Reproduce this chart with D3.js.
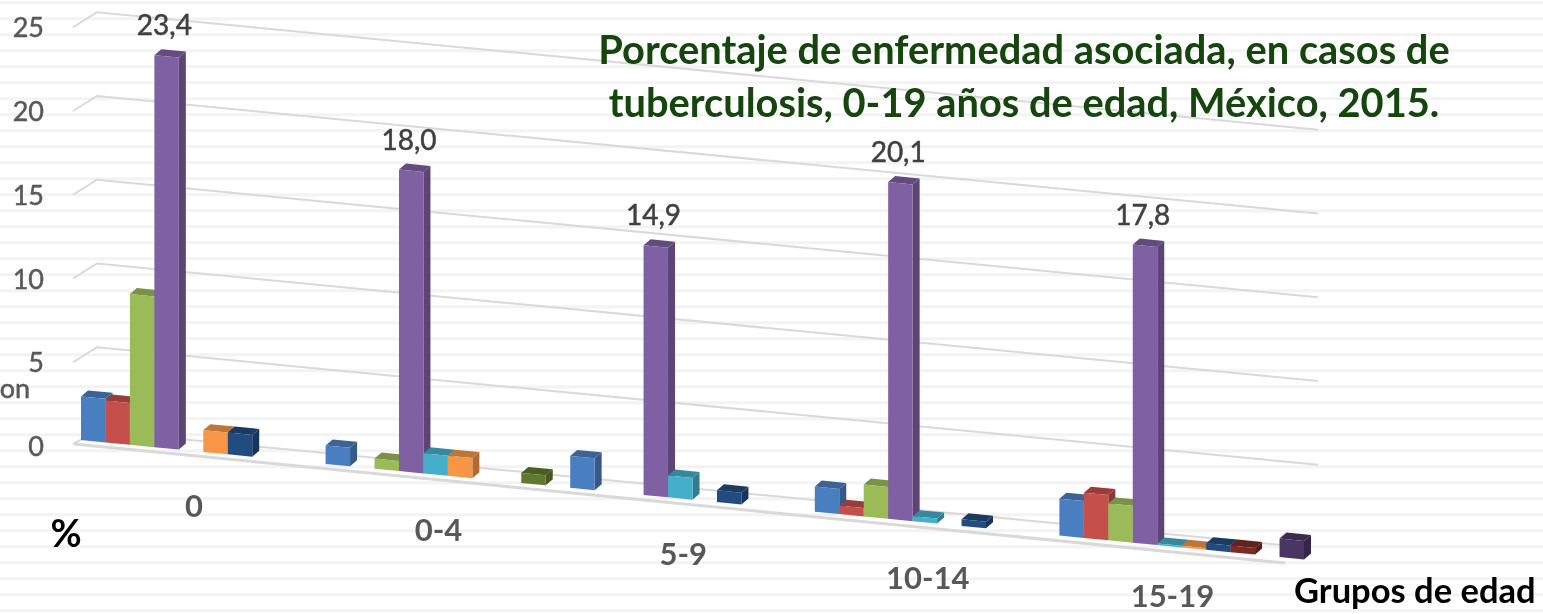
<!DOCTYPE html>
<html><head><meta charset="utf-8">
<script src="https://cdnjs.cloudflare.com/ajax/libs/d3/7.8.5/d3.min.js"></script>
<style>html,body{margin:0;padding:0;background:#fff;overflow:hidden}svg{display:block}</style>
</head><body><svg id="c" width="1543" height="614"></svg>
<script>
const categories = ["0","0-4","5-9","10-14","15-19"];
const seriesColors = ["#4a7fc0","#c44f4c","#9bbb59","#7f60a3","#45aecb","#f79646","#214c80","#7c2b28","#5f7a2e","#4b3564"];
const serie1 = [2.6,1.1,1.9,1.5,2.2];
const serie2 = [2.5,null,null,0.5,2.7];
const serie3 = [9.0,0.6,null,1.9,2.2];
const serie4 = [23.4,18.0,14.9,20.1,17.8];
const serie5 = [null,1.2,1.3,0.3,0.1];
const serie6 = [1.3,1.2,null,null,0.1];
const serie7 = [1.3,null,0.7,0.4,0.4];
const serie8 = [null,null,null,null,0.4];
const serie9 = [null,0.6,null,null,null];
const serie10 = [null,null,null,null,1.1];
const series = [serie1,serie2,serie3,serie4,serie5,serie6,serie7,serie8,serie9,serie10];
const valueTicks = [0,5,10,15,20,25];
const dataLabels = ["23,4","18,0","14,9","20,1","17,8"];
const titleLines = ["Porcentaje de enfermedad asociada, en casos de","tuberculosis, 0-19 años de edad, México, 2015."];

const W=1543,H=614;
const svg=d3.select("#c");
const defs=svg.append("defs");
defs.append("filter").attr("id","soft").append("feGaussianBlur").attr("stdDeviation",0.55);
defs.append("filter").attr("id","softText").append("feGaussianBlur").attr("stdDeviation",0.4);

// background stripes
svg.append("g").selectAll("line").data(d3.range(2.7,H,16)).join("line")
  .attr("x1",0).attr("x2",W).attr("y1",d=>d).attr("y2",d=>d)
  .attr("stroke","#f3f3f3").attr("stroke-width",3);

const xCat=d3.scaleBand().domain(categories).range([81,81+5*244.6]);
const xSer=d3.scaleBand().domain(d3.range(series.length)).range([0,xCat.bandwidth()]);
const yVal=d3.scaleLinear().domain([0,25]).range([0,-418.75]);
const floorFront=d3.scaleLinear().domain([81,1300]).range([440,559]);
const floorBack=d3.scaleLinear().domain([97,1318]).range([431,548.5]);
const depth=[7,-6];

// gridlines on the walls
const grid=svg.append("g").attr("fill","none").attr("stroke","#d9d9d9").attr("stroke-width",2).attr("filter","url(#soft)");
grid.selectAll("path").data(valueTicks).join("path").attr("d",v=>{
  const k=yVal(v);
  const yl=floorBack(97)+k, yr=floorBack(1318)+k;
  const end=v===0?1305:1318;
  return d3.line()([[73,yl+(v===0?13:15)],[97,yl],[end,v===0?floorBack(1305):yr]]);
});
// floor front edge
svg.append("path").attr("d",d3.line()([[74,444],[1285,563]])).attr("fill","none")
  .attr("stroke","#d9d9d9").attr("stroke-width",3).attr("filter","url(#soft)");

// bars
const marks=svg.append("g").attr("filter","url(#soft)");
const w=xSer.bandwidth();
categories.forEach((cat,i)=>{
  series.forEach((vals,j)=>{
    const v=vals[i];
    if(v==null) return;
    const x0=xCat(cat)+xSer(j), x1=x0+w;
    const b0=floorFront(x0), b1=floorFront(x1);
    const h=yVal(v);
    const col=d3.color(seriesColors[j]);
    const g=marks.append("g");
    const pts=a=>a.map(p=>p.join(",")).join(" ");
    g.append("polygon").attr("points",pts([[x1,b1],[x1+depth[0],b1+depth[1]],[x1+depth[0],b1+depth[1]+h],[x1,b1+h]]))
      .attr("fill",col.darker(0.95));
    g.append("polygon").attr("points",pts([[x0,b0+h],[x1,b1+h],[x1+depth[0],b1+h+depth[1]],[x0+depth[0],b0+h+depth[1]]]))
      .attr("fill",col.darker(0.7));
    g.append("polygon").attr("points",pts([[x0,b0],[x1,b1],[x1,b1+h],[x0,b0+h]]))
      .attr("fill",col);
  });
});

const font="Lato, 'Open Sans', sans-serif";
const texts=svg.append("g").attr("filter","url(#softText)");
// value axis labels
texts.append("g").selectAll("text").data(valueTicks).join("text")
  .attr("x",44).attr("y",v=>456+yVal(v)).attr("text-anchor","end")
  .attr("font-family",font).attr("font-size",27).attr("fill","#595959")
  .attr("stroke","#595959").attr("stroke-width",0.5).text(d=>d);
texts.append("text").attr("x",30).attr("y",398).attr("text-anchor","end")
  .attr("font-family",font).attr("font-size",27).attr("fill","#595959")
  .attr("stroke","#595959").attr("stroke-width",0.5).text("on");

// data labels above the tallest series
texts.append("g").selectAll("text").data(categories).join("text")
  .attr("x",c=>xCat(c)+xSer(3)+10)
  .attr("y",(c,i)=>floorFront(xCat(c)+xSer(3))+yVal(serie4[i])-20)
  .attr("text-anchor","middle").attr("font-family",font).attr("font-size",28).attr("fill","#404040")
  .attr("stroke","#404040").attr("stroke-width",0.5)
  .text((c,i)=>dataLabels[i]);

// category labels
texts.append("g").selectAll("text").data(categories).join("text")
  .attr("x",c=>xCat(c)+113)
  .attr("y",c=>Math.min(607,floorFront(xCat(c))+77))
  .attr("text-anchor","middle").attr("font-family",font).attr("font-weight",700).attr("font-size",31).attr("fill","#595959")
  .text(c=>c);

texts.append("text").attr("x",66).attr("y",547).attr("text-anchor","middle")
  .attr("font-family",font).attr("font-weight",700).attr("font-size",38).attr("fill","#000").text("%");
texts.append("text").attr("x",1294).attr("y",603)
  .attr("font-family",font).attr("font-weight",700).attr("font-size",34.5).attr("fill","#000").text("Grupos de edad");

texts.append("g").selectAll("text").data(titleLines).join("text")
  .attr("x",1024).attr("y",(d,i)=>64+i*53).attr("text-anchor","middle")
  .attr("font-family",font).attr("font-weight",700).attr("font-size",39.8).attr("fill","#124410").text(d=>d);
</script></body></html>
